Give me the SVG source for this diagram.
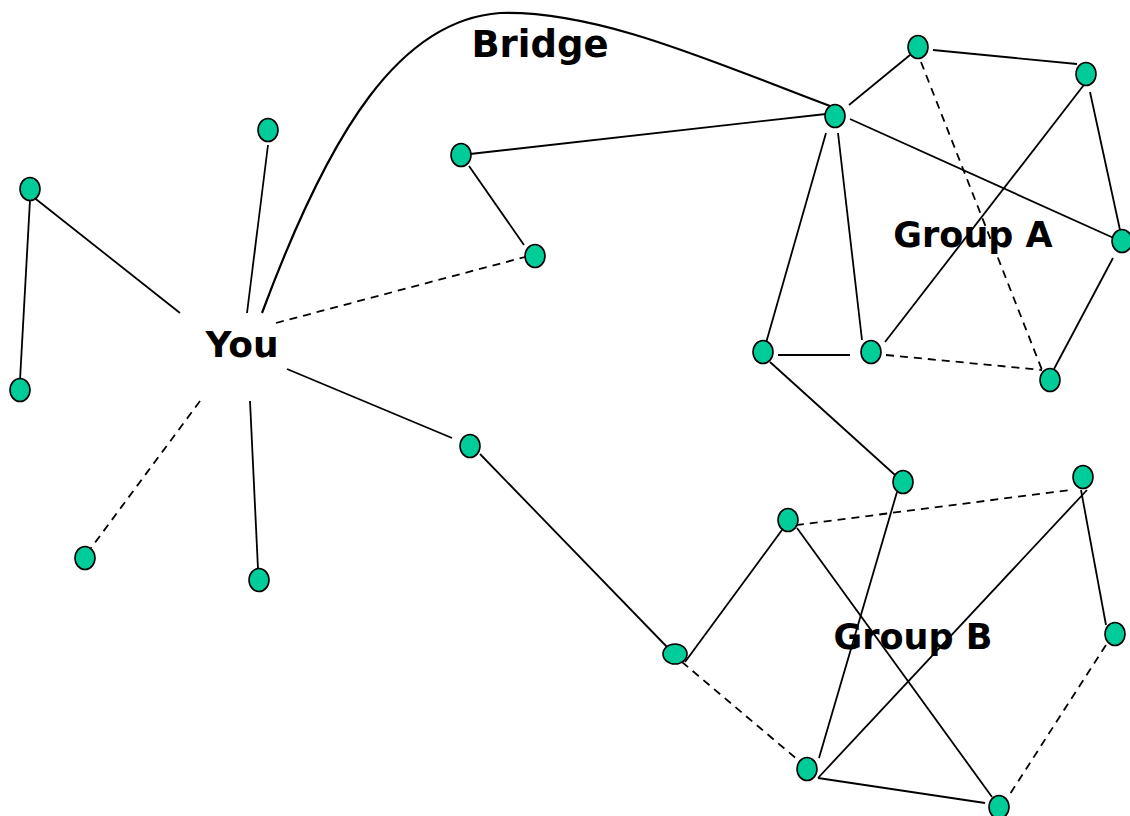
<svg xmlns="http://www.w3.org/2000/svg" width="1130" height="816" viewBox="0 0 1130 816">
<style>
.n{fill:#00CC99;stroke:#000;stroke-width:1.6}
.e{stroke:#000;stroke-width:1.8;fill:none}
.d{stroke:#000;stroke-width:1.8;fill:none;stroke-dasharray:8 6}
.t{font-family:"DejaVu Sans","Verdana",sans-serif;font-weight:bold;font-size:35px;fill:#000;text-anchor:middle}
</style>
<rect width="1130" height="816" fill="#fff"/>
<g id="connectors">
<path class="e" style="stroke-width:2.2" d="M262,313 C330,130 400,20 500,13 C600,10 720,65 830,106"/>
<line class="e" x1="30" y1="200" x2="20" y2="380"/>
<line class="e" x1="32" y1="196" x2="180" y2="313"/>
<line class="e" x1="268" y1="145" x2="247" y2="313"/>
<line class="d" x1="276" y1="323" x2="525" y2="257"/>
<line class="e" x1="287" y1="369" x2="452" y2="438"/>
<line class="d" x1="200" y1="401" x2="91" y2="548"/>
<line class="e" x1="250" y1="401" x2="258" y2="569"/>
<line class="e" x1="470" y1="154" x2="826" y2="114"/>
<line class="e" x1="469" y1="166" x2="524" y2="245"/>
<line class="e" x1="480" y1="454" x2="668" y2="648"/>
<line class="e" x1="849" y1="105" x2="910" y2="55"/>
<line class="e" x1="933" y1="50" x2="1077" y2="64"/>
<line class="d" x1="921" y1="62" x2="1042" y2="370"/>
<line class="e" x1="1090" y1="77" x2="885" y2="342"/>
<line class="e" x1="1090" y1="92" x2="1120" y2="230"/>
<line class="e" x1="850" y1="119" x2="1127" y2="244"/>
<line class="e" x1="826" y1="133" x2="766" y2="343"/>
<line class="e" x1="838" y1="133" x2="862" y2="340"/>
<line class="e" x1="778" y1="355" x2="850" y2="355"/>
<line class="d" x1="886" y1="355" x2="1042" y2="370"/>
<line class="e" x1="1113" y1="258" x2="1054" y2="369"/>
<line class="e" x1="770" y1="362" x2="895" y2="475"/>
<line class="e" x1="897" y1="492" x2="819" y2="758"/>
<line class="d" x1="782" y1="527" x2="1070" y2="490"/>
<line class="e" x1="1087" y1="490" x2="818" y2="778"/>
<line class="e" x1="1081" y1="490" x2="1106" y2="625"/>
<line class="e" x1="782" y1="530" x2="685" y2="662"/>
<line class="e" x1="797" y1="528" x2="992" y2="797"/>
<line class="d" x1="682" y1="662" x2="798" y2="760"/>
<line class="e" x1="818" y1="778" x2="985" y2="803"/>
<line class="d" x1="1106" y1="645" x2="1008" y2="797"/>
</g>
<g id="N1"><ellipse class="n" cx="30" cy="189" rx="10" ry="11.5"/></g>
<g id="N2"><ellipse class="n" cx="20" cy="390" rx="10" ry="11.5"/></g>
<g id="N3"><ellipse class="n" cx="268" cy="130" rx="10" ry="11.5"/></g>
<g id="N4"><ellipse class="n" cx="461" cy="155" rx="10" ry="11.5"/></g>
<g id="N5"><ellipse class="n" cx="535" cy="256" rx="10" ry="11.5"/></g>
<g id="N6"><ellipse class="n" cx="470" cy="446" rx="10" ry="11.5"/></g>
<g id="N7"><ellipse class="n" cx="85" cy="558" rx="10" ry="11.5"/></g>
<g id="N8"><ellipse class="n" cx="259" cy="580" rx="10" ry="11.5"/></g>
<g id="A1"><ellipse class="n" cx="835" cy="116" rx="10" ry="11.5"/></g>
<g id="A2"><ellipse class="n" cx="918" cy="47" rx="10" ry="11.5"/></g>
<g id="A3"><ellipse class="n" cx="1086" cy="74" rx="10" ry="11.5"/></g>
<g id="A4"><ellipse class="n" cx="1122" cy="241" rx="10" ry="11.5"/></g>
<g id="A5"><ellipse class="n" cx="763" cy="352" rx="10" ry="11.5"/></g>
<g id="A6"><ellipse class="n" cx="871" cy="352" rx="10" ry="11.5"/></g>
<g id="A7"><ellipse class="n" cx="1050" cy="380" rx="10" ry="11.5"/></g>
<g id="B0"><ellipse class="n" cx="903" cy="482" rx="10" ry="11.5"/></g>
<g id="B1"><ellipse class="n" cx="1083" cy="477" rx="10" ry="11.5"/></g>
<g id="B2"><ellipse class="n" cx="788" cy="520" rx="10" ry="11.5"/></g>
<g id="B3"><ellipse class="n" cx="675" cy="654" rx="12" ry="10"/></g>
<g id="B4"><ellipse class="n" cx="1115" cy="634" rx="10" ry="11.5"/></g>
<g id="B5"><ellipse class="n" cx="807" cy="769" rx="10" ry="11.5"/></g>
<g id="B6"><ellipse class="n" cx="999" cy="807" rx="10" ry="11.5"/></g>
<g id="labels">
<text class="t" x="242" y="357" style="font-size:36px">You</text>
<text class="t" x="540" y="57" style="font-size:37px">Bridge</text>
<text class="t" x="973" y="247">Group A</text>
<text class="t" x="913" y="649">Group B</text>
</g>
</svg>
